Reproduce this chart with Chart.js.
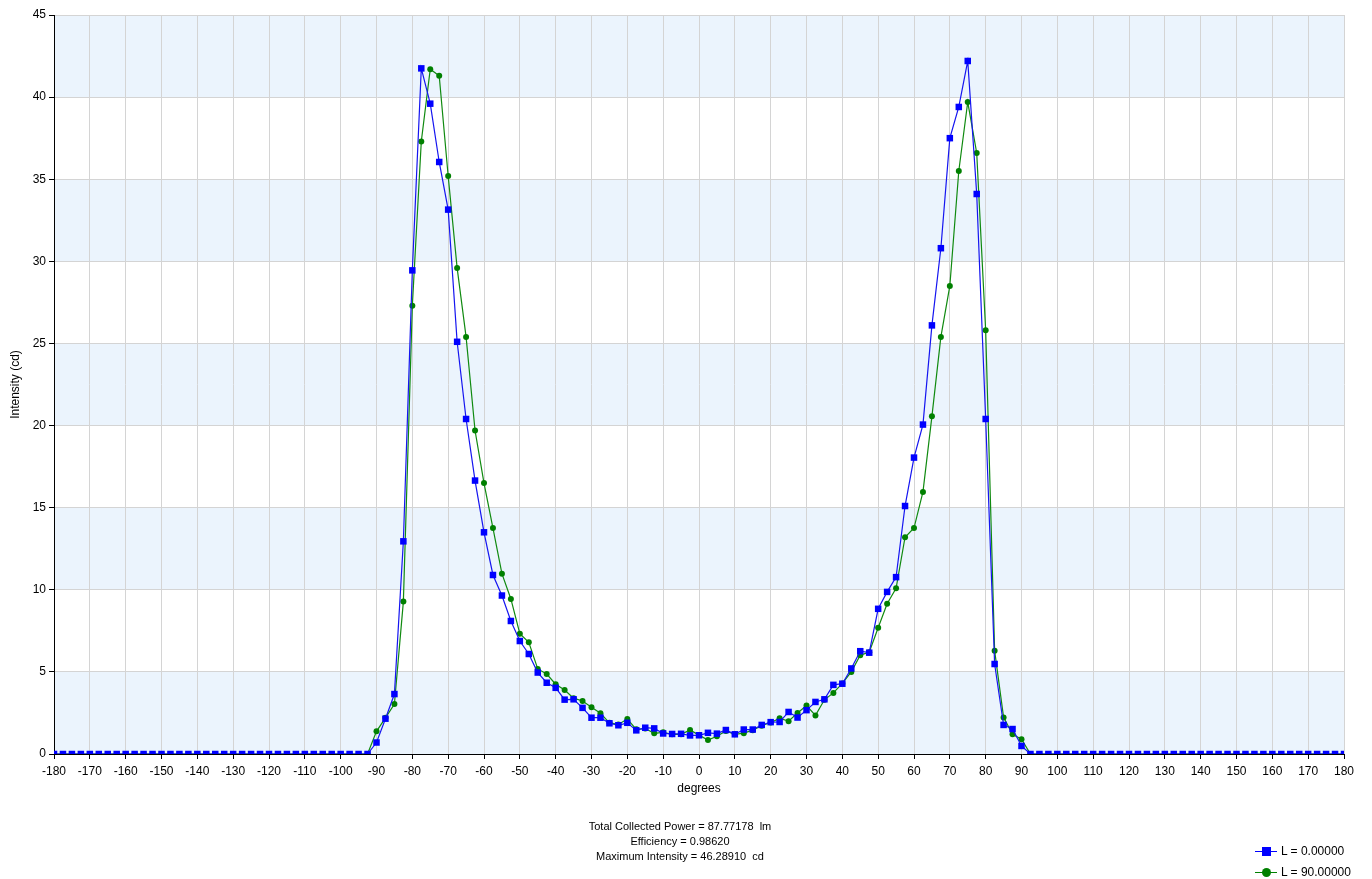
<!DOCTYPE html>
<html>
<head>
<meta charset="utf-8">
<script src="https://cdn.jsdelivr.net/npm/chart.js@4"></script>
<style>
  html, body { margin: 0; padding: 0; background: #fff; }
  #wrap { position: relative; width: 1372px; height: 879px; }
  canvas { position: absolute; left: 0; top: 0; }
  .info { position: absolute; left: 480px; width: 400px; text-align: center; font-family: "Liberation Sans", Arial, sans-serif; font-size: 11px; color: #000; white-space: pre; line-height: 15px; }
  .leg { position: absolute; font-family: "Liberation Sans", Arial, sans-serif; font-size: 12px; color: #000; white-space: pre; }
  .legline { position: absolute; height: 1px; width: 22px; }
  .legmark { position: absolute; }
</style>
</head>
<body>
<div id="wrap">
  <canvas id="c" width="1372" height="879"></canvas>
  <div class="info" style="top:819px">Total Collected Power = 87.77178  lm
Efficiency = 0.98620
Maximum Intensity = 46.28910  cd</div>
  <div class="legline" style="left:1255px;top:851px;background:#0000ff"></div>
  <div class="legmark" style="left:1262px;top:847px;width:9px;height:9px;background:#0000ff"></div>
  <div class="leg" style="left:1281px;top:844px">L = 0.00000</div>
  <div class="legline" style="left:1255px;top:872px;background:#008000"></div>
  <div class="legmark" style="left:1262px;top:868px;width:9px;height:9px;border-radius:50%;background:#008000"></div>
  <div class="leg" style="left:1281px;top:865px">L = 90.00000</div>
</div>
<script>
// Angles: -180 .. 180 step 2.5
const angles = [];
for (let a = -180; a <= 180; a += 2.5) angles.push(a);

const zeros36 = new Array(36).fill(0);

// L = 0.00000, from -90 to 90 (step 2.5)
const seriesL0_core = [
  0.7, 2.15, 3.65, 12.95, 29.45, 41.75, 39.6, 36.05, 33.15, 25.1,
  20.4, 16.65, 13.5, 10.9, 9.65, 8.1, 6.88, 6.09, 4.96, 4.34,
  4.03, 3.31, 3.33, 2.81, 2.21, 2.21, 1.87, 1.75, 1.9, 1.44,
  1.6, 1.56, 1.25, 1.22, 1.23, 1.13, 1.14, 1.29, 1.24, 1.46,
  1.2, 1.49, 1.49, 1.77, 1.94, 1.95, 2.56, 2.22, 2.67, 3.17,
  3.33, 4.21, 4.28, 5.21, 6.26, 6.17, 8.84, 9.87, 10.77, 15.1,
  18.05, 20.06, 26.1, 30.8, 37.5, 39.4, 42.2, 34.1, 20.4, 5.48,
  1.77, 1.52, 0.49
];

// L = 90.00000, from -90 to 90 (step 2.5)
const seriesL90_core = [
  1.38, 2.2, 3.04, 9.28, 27.3, 37.3, 41.7, 41.3, 35.2, 29.6,
  25.4, 19.7, 16.5, 13.76, 10.98, 9.44, 7.33, 6.8, 5.18, 4.87,
  4.25, 3.9, 3.4, 3.23, 2.84, 2.48, 1.9, 1.8, 2.13, 1.5,
  1.55, 1.26, 1.32, 1.2, 1.2, 1.46, 1.15, 0.85, 1.08, 1.4,
  1.2, 1.27, 1.45, 1.72, 1.92, 2.17, 2.0, 2.5, 2.95, 2.35,
  3.3, 3.72, 4.3, 5.0, 6.02, 6.2, 7.69, 9.15, 10.09, 13.2,
  13.76, 15.96, 20.56, 25.4, 28.5, 35.5, 39.7, 36.6, 25.8, 6.29,
  2.23, 1.2, 0.9
];

const seriesL0 = zeros36.concat(seriesL0_core, zeros36);
const seriesL90 = zeros36.concat(seriesL90_core, zeros36);

const xTicks = [];
for (let t = -180; t <= 180; t += 10) xTicks.push(t);
const yTicks = [0, 5, 10, 15, 20, 25, 30, 35, 40, 45];

const FONT = "'Liberation Sans', Arial, sans-serif";

const bandPlugin = {
  id: 'bands',
  beforeDraw(chart) {
    const { ctx, chartArea: a, scales: { y } } = chart;
    ctx.save();
    for (let i = 0; i < yTicks.length - 1; i += 2) {
      const y0 = y.getPixelForValue(yTicks[i]);
      const y1 = y.getPixelForValue(yTicks[i + 1]);
      ctx.fillStyle = '#ebf4fd';
      ctx.fillRect(a.left, y1, a.right - a.left, y0 - y1);
    }
    ctx.restore();
  }
};

new Chart(document.getElementById('c'), {
  type: 'line',
  data: {
    datasets: [
      {
        label: 'L = 0.00000',
        data: angles.map((a, i) => ({ x: a, y: seriesL0[i] })),
        borderColor: '#1515f0',
        backgroundColor: '#0000ff',
        pointBackgroundColor: '#0000ff',
        pointBorderColor: '#0000ff',
        borderWidth: 1.2,
        pointStyle: 'rect',
        pointRadius: 4.6,
        pointBorderWidth: 0,
        tension: 0
      },
      {
        label: 'L = 90.00000',
        data: angles.map((a, i) => ({ x: a, y: seriesL90[i] })),
        borderColor: '#108a10',
        backgroundColor: '#008000',
        pointBackgroundColor: '#008000',
        pointBorderColor: '#008000',
        borderWidth: 1.2,
        pointStyle: 'circle',
        pointRadius: 3,
        pointBorderWidth: 0,
        tension: 0
      }
    ]
  },
  options: {
    responsive: false,
    animation: false,
    layout: { padding: { left: 6, right: 28, top: 15, bottom: 81 } },
    plugins: { legend: { display: false }, tooltip: { enabled: false } },
    scales: {
      x: {
        type: 'linear',
        min: -180, max: 180,
        afterBuildTicks: (s) => { s.ticks = xTicks.map(v => ({ value: v })); },
        afterFit: (s) => { s.height = 44; },
        ticks: { color: '#000', font: { family: FONT, size: 12 }, padding: 5, maxRotation: 0, autoSkip: false },
        grid: { color: '#d4d4d4', lineWidth: 1, tickLength: 5, tickColor: '#000' },
        border: { color: '#000', width: 1 },
        title: { display: true, text: 'degrees', color: '#000', font: { family: FONT, size: 12 }, padding: { top: 0, bottom: 2 } }
      },
      y: {
        min: 0, max: 45,
        afterBuildTicks: (s) => { s.ticks = yTicks.map(v => ({ value: v })); },
        afterFit: (s) => { s.width = 48; },
        ticks: { color: '#000', font: { family: FONT, size: 12 }, padding: 3 },
        grid: { color: '#d4d4d4', lineWidth: 1, tickLength: 5, tickColor: '#000' },
        border: { color: '#000', width: 1 },
        title: { display: true, text: 'Intensity (cd)', color: '#000', font: { family: FONT, size: 12 }, padding: { top: 2, bottom: 0 } }
      }
    }
  },
  plugins: [bandPlugin]
});
</script>
</body>
</html>
